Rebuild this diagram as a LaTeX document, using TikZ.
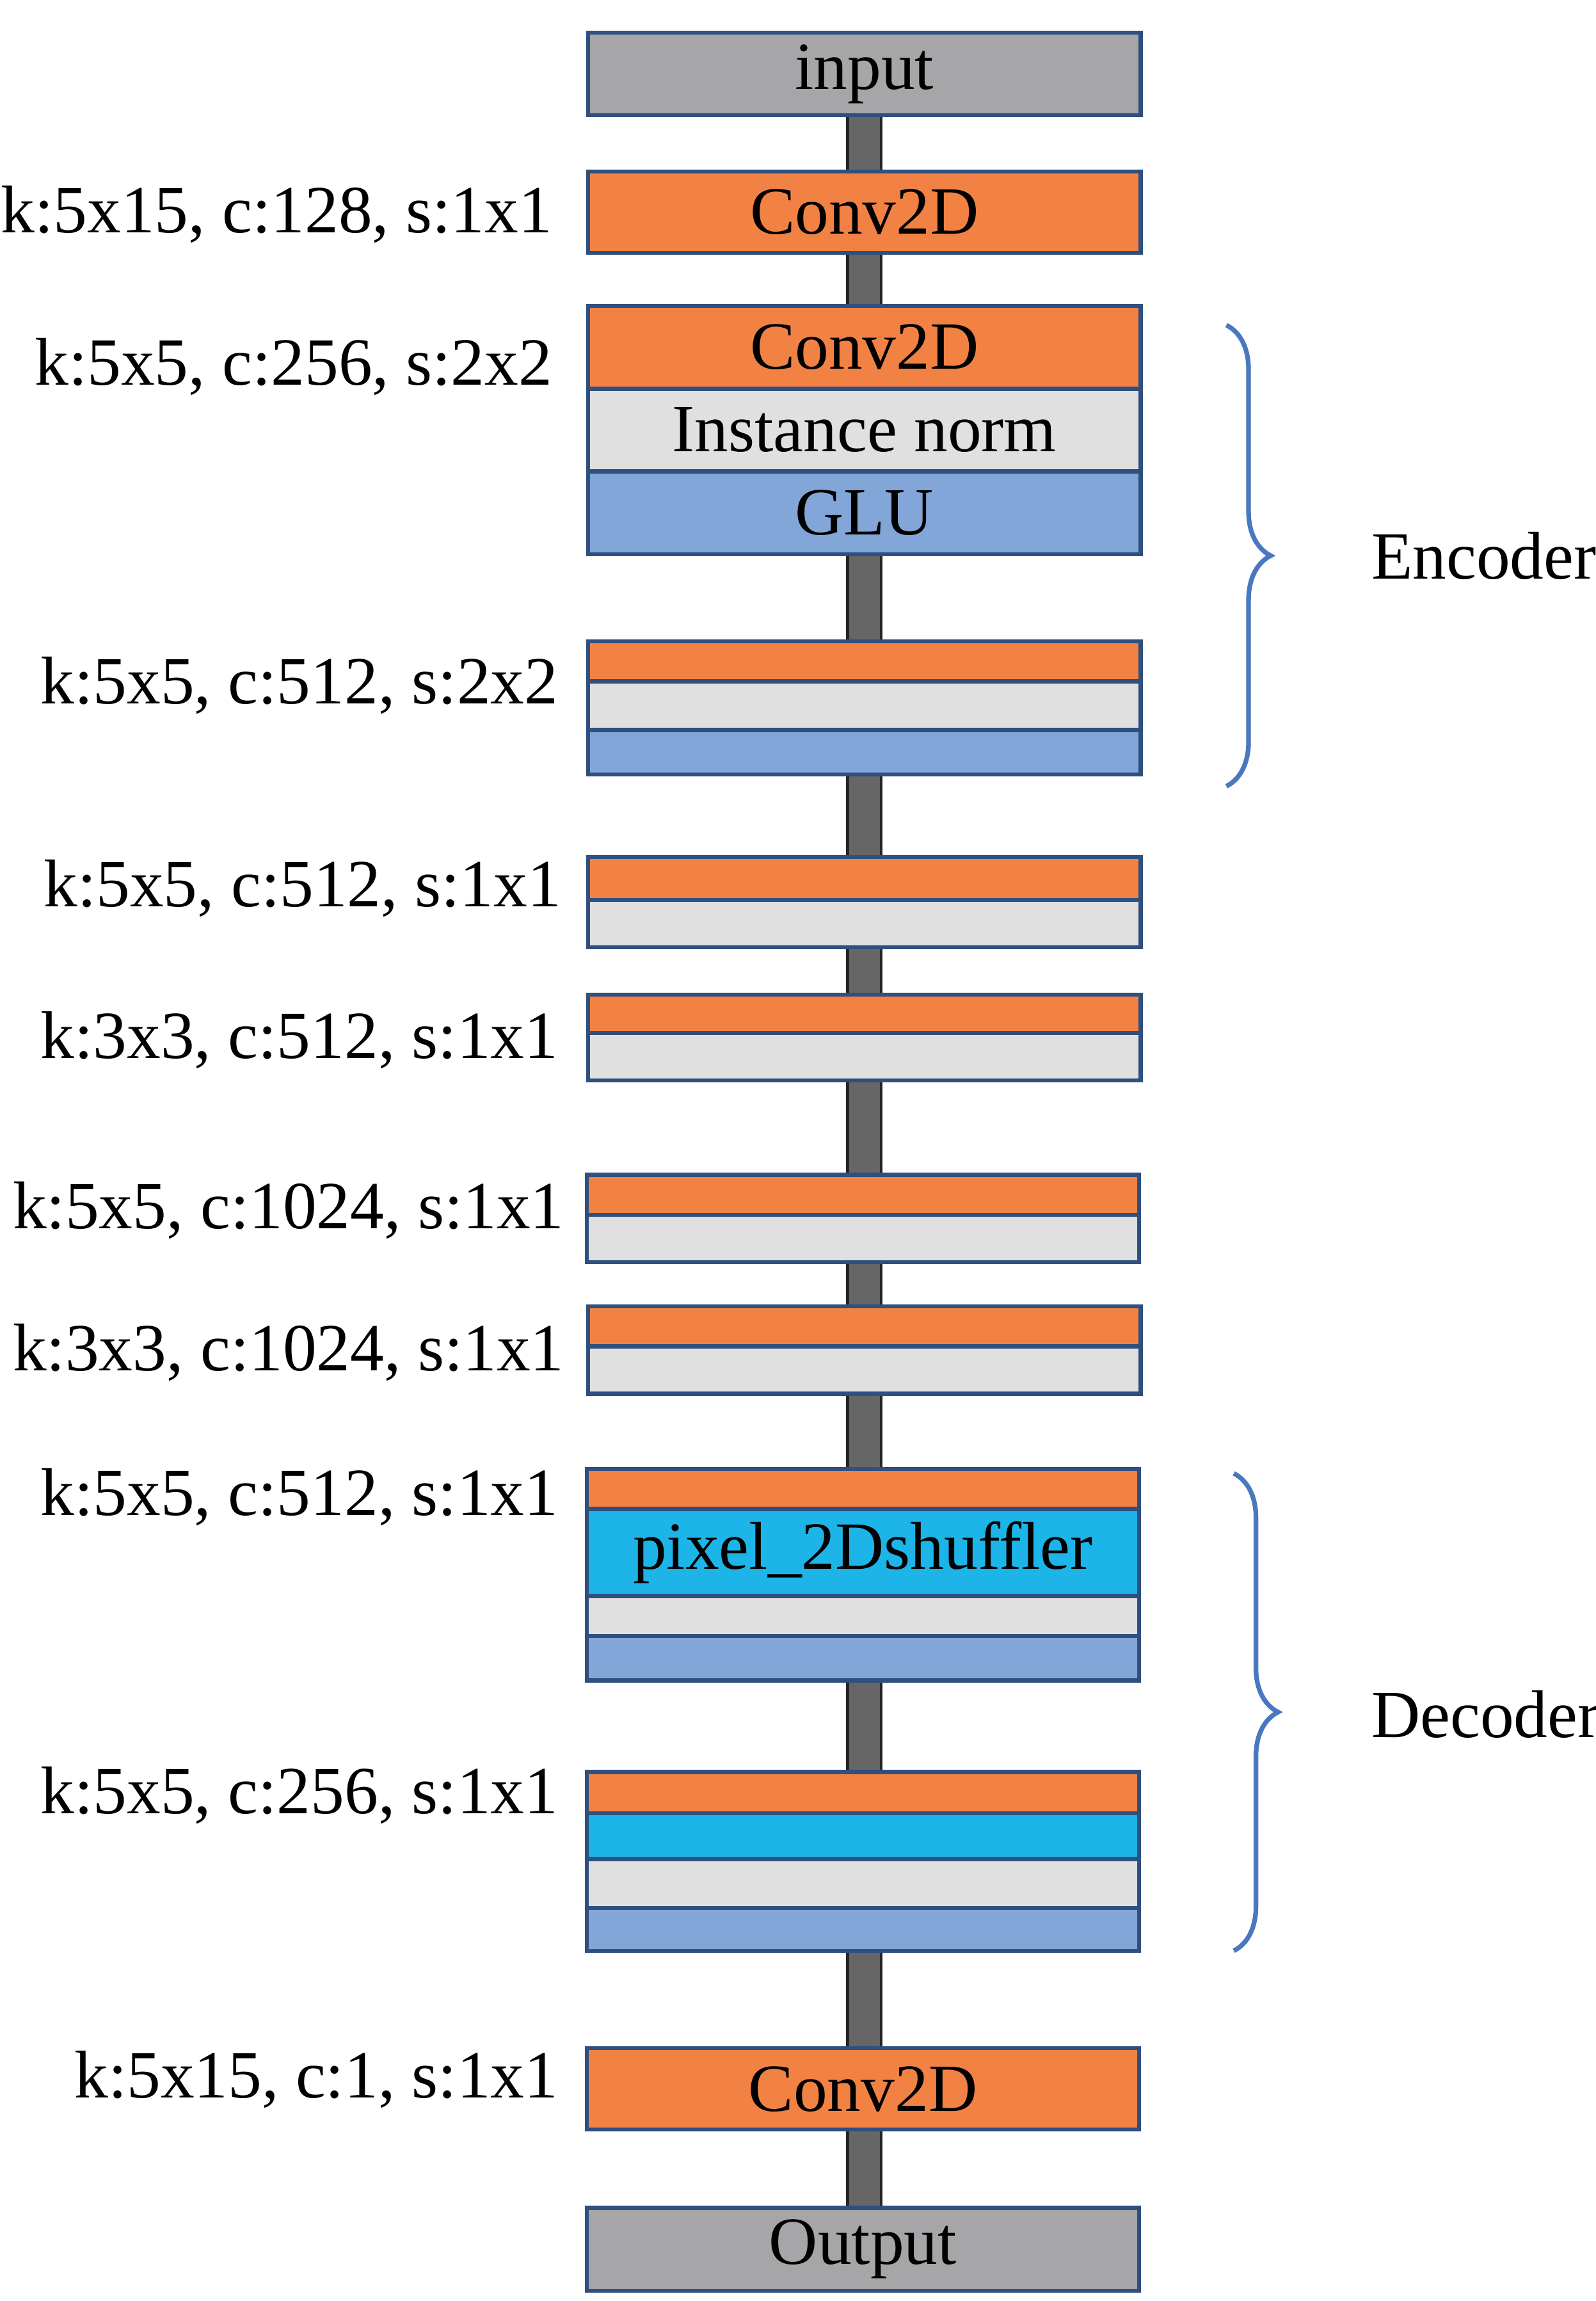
\documentclass[tikz,border=0pt]{standalone}
\usepackage{fontspec}
\setmainfont{Liberation Serif}
\usetikzlibrary{decorations.pathreplacing}

\definecolor{convorange}{HTML}{F28244}
\definecolor{normgray}{HTML}{E0E0E0}
\definecolor{glublue}{HTML}{82A6D8}
\definecolor{shufcyan}{HTML}{1DB4E8}
\definecolor{iogray}{HTML}{A6A5A8}
\definecolor{edgeblue}{HTML}{2F4F7F}
\definecolor{bracecol}{HTML}{4A78C0}

\begin{document}
\begin{tikzpicture}[x=0.02cm, y=-0.02cm,
  every node/.style={font=\fontsize{26}{30}\selectfont},
  layer/.style={draw=edgeblue, line width=1.6pt, minimum width=7.48cm, inner sep=0pt},
  spine/.style={draw=black!85, line width=1pt, double=black!60, double distance=0.42cm},
  brace/.style={draw=bracecol, line width=1.8pt, decorate, decoration={brace, amplitude=0.6cm}},
  info/.style={anchor=east}]

\useasboundingbox (0,0) rectangle (1080,1557);

% Spine
\coordinate (top) at (585,78);
\coordinate (bot) at (585,1494);
\draw[spine] (top) -- (bot);

% Layers
\node[layer, fill=iogray, minimum height=1.12cm] (in) at (585,50) {input};
\node[layer, fill=convorange, minimum height=1.1cm] (c1) at (585,143.5) {Conv2D};

\node[layer, fill=convorange, minimum height=1.12cm] (e1c) at (585,235) {Conv2D};
\node[layer, fill=normgray, minimum height=1.12cm] (e1n) at (585,291) {Instance norm};
\node[layer, fill=glublue, minimum height=1.12cm] (e1g) at (585,347) {GLU};

\node[layer, fill=convorange, minimum height=0.54cm] (e2c) at (585,447.5) {};
\node[layer, fill=normgray, minimum height=0.66cm] (e2n) at (585,477.5) {};
\node[layer, fill=glublue, minimum height=0.6cm] (e2g) at (585,509) {};

\node[layer, fill=convorange, minimum height=0.58cm] (r1c) at (585,594.5) {};
\node[layer, fill=normgray, minimum height=0.64cm] (r1n) at (585,625) {};
\node[layer, fill=convorange, minimum height=0.52cm] (r2c) at (585,686) {};
\node[layer, fill=normgray, minimum height=0.64cm] (r2n) at (585,715) {};
\node[layer, fill=convorange, minimum height=0.54cm] (r3c) at (584,808.5) {};
\node[layer, fill=normgray, minimum height=0.64cm] (r3n) at (584,838) {};
\node[layer, fill=convorange, minimum height=0.54cm] (r4c) at (585,897.5) {};
\node[layer, fill=normgray, minimum height=0.64cm] (r4n) at (585,927) {};

\node[layer, fill=convorange, minimum height=0.54cm] (d1c) at (584,1007.5) {};
\node[layer, fill=shufcyan, minimum height=1.18cm] (d1s) at (584,1050.5) {pixel\_2Dshuffler};
\node[layer, fill=normgray, minimum height=0.54cm] (d1n) at (584,1093.5) {};
\node[layer, fill=glublue, minimum height=0.6cm] (d1g) at (584,1122) {};

\node[layer, fill=convorange, minimum height=0.56cm] (d2c) at (584,1213) {};
\node[layer, fill=shufcyan, minimum height=0.62cm] (d2s) at (584,1242.5) {};
\node[layer, fill=normgray, minimum height=0.66cm] (d2n) at (584,1274.5) {};
\node[layer, fill=glublue, minimum height=0.58cm] (d2g) at (584,1305.5) {};

\node[layer, fill=convorange, minimum height=1.1cm] (c2) at (584,1413.5) {Conv2D};
\node[layer, fill=iogray, minimum height=1.12cm] (out) at (584,1522) {Output};

% Layer settings
\node[info] at (380,145) {k:5x15, c:128, s:1x1};
\node[info] at (380,248) {k:5x5, c:256, s:2x2};
\node[info] at (384,464) {k:5x5, c:512, s:2x2};
\node[info] at (386,601) {k:5x5, c:512, s:1x1};
\node[info] at (384,704) {k:3x3, c:512, s:1x1};
\node[info] at (388,819) {k:5x5, c:1024, s:1x1};
\node[info] at (388,915) {k:3x3, c:1024, s:1x1};
\node[info] at (384,1013) {k:5x5, c:512, s:1x1};
\node[info] at (384,1215) {k:5x5, c:256, s:1x1};
\node[info] at (384,1407) {k:5x15, c:1, s:1x1};

% Braces
\coordinate (enctop) at (830,220);
\coordinate (encbot) at (830,532);
\coordinate (dectop) at (835,997);
\coordinate (decbot) at (835,1320);
\draw[brace] (enctop) -- (encbot);
\draw[brace] (dectop) -- (decbot);
\node[anchor=west] (enc) at (922,376) {Encoder};
\node[anchor=west] (dec) at (922,1160) {Decoder};

\end{tikzpicture}
\end{document}
